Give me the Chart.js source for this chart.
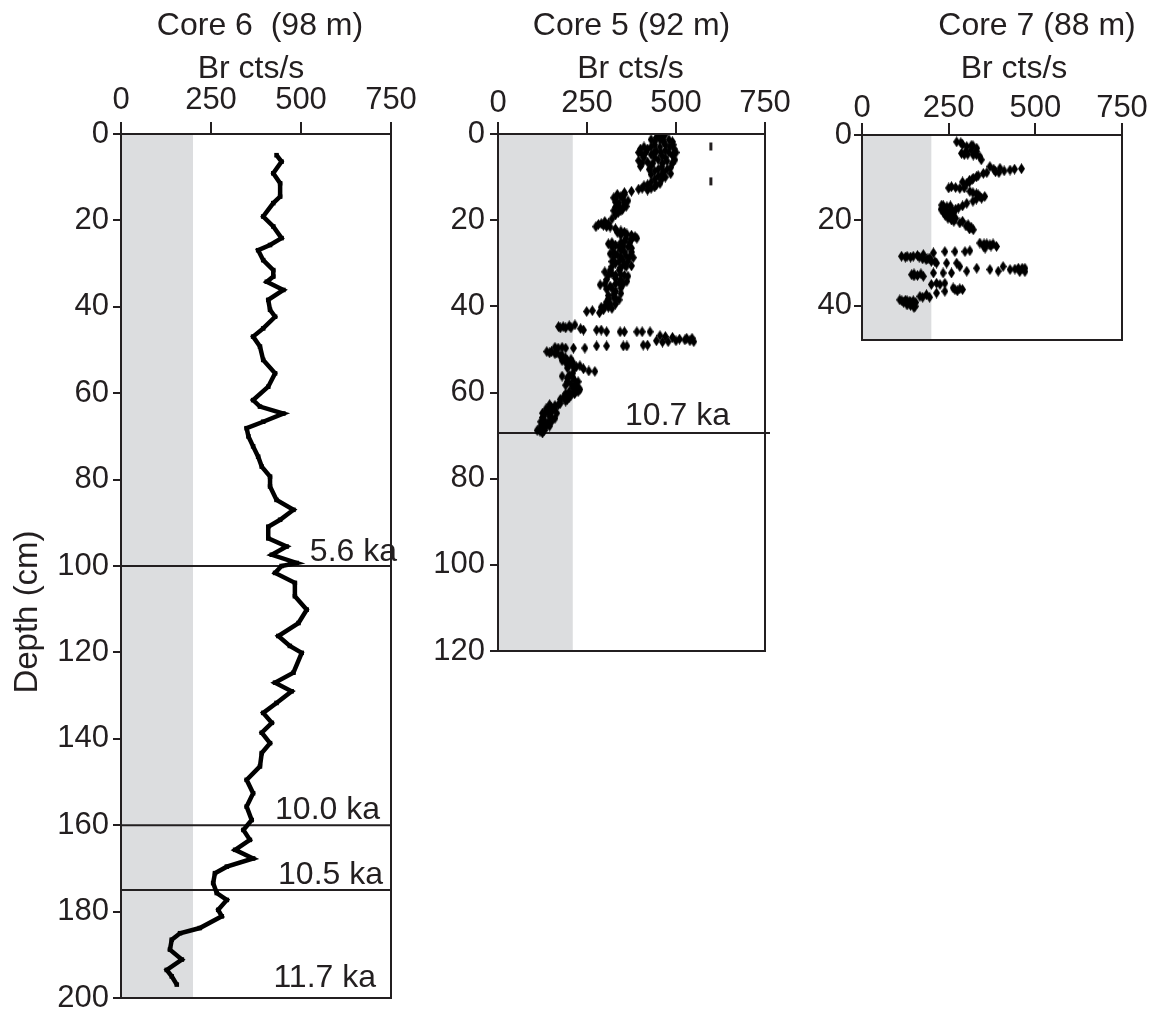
<!DOCTYPE html>
<html>
<head>
<meta charset="utf-8">
<script src="https://cdn.jsdelivr.net/npm/chart.js@4/dist/chart.umd.min.js"></script>
<style>
  html, body { margin: 0; padding: 0; background: #fff; overflow: hidden; }
  #wrap { position: relative; width: 1163px; height: 1015px; overflow: hidden; }
  canvas { position: absolute; top: 0; }
</style>
</head>
<body>
<div id="wrap">
  <canvas id="core6" width="430" height="1030" style="left:0px"></canvas>
  <canvas id="core5" width="380" height="700" style="left:420px"></canvas>
  <canvas id="core7" width="363" height="420" style="left:800px"></canvas>
</div>
<script>
// Core 6 (98 m): depth (cm) and Br counts
const core6Depth = [4.9, 6.4, 9.1, 11.4, 14.5, 16.0, 19.1, 21.4, 24.1, 25.7, 26.9, 29.2, 31.5, 33.0, 34.2, 36.1, 38.4, 40.7, 42.3, 45.0,
  46.9, 49.2, 52.3, 55.4, 58.5, 61.6, 63.1, 64.7, 66.6, 68.1, 70.0, 72.3, 74.7, 77.0, 79.3, 81.6, 84.7, 87.0, 89.3, 90.9,
  93.6, 95.5, 97.4, 99.3, 100.0, 101.6, 103.9, 107.0, 110.1, 113.2, 116.2, 118.5, 120.1, 124.7, 127.0, 129.0, 131.7, 134.0, 136.3, 138.6,
  141.0, 143.3, 146.4, 149.5, 152.6, 155.7, 158.8, 161.1, 163.4, 165.7, 167.7, 169.6, 171.1, 173.4, 175.7, 177.3, 179.6, 181.1, 183.8, 185.0,
  186.5, 188.8, 191.1, 193.5, 195.0, 196.9];
const core6Br = [432, 446, 423, 442, 442, 423, 395, 423, 446, 414, 381, 395, 423, 423, 405, 451, 409, 414, 428, 395,
  367, 386, 395, 428, 409, 367, 386, 451, 395, 349, 354, 367, 381, 391, 414, 414, 432, 479, 442, 409,
  409, 460, 419, 488, 446, 428, 483, 483, 516, 493, 437, 469, 502, 479, 428, 474, 432, 395, 419, 391,
  414, 391, 386, 349, 367, 349, 363, 340, 358, 317, 367, 294, 261, 256, 266, 294, 270, 280, 219, 164,
  141, 136, 169, 127, 141, 155];
const core6Ages = ['5.6 ka', '10.0 ka', '10.5 ka', '11.7 ka'];
const core6AgeDepth = [100, 160, 175, 200];

// Core 5 (92 m)
const core5Depth = [0.3, 0.3, 1.3, 1.3, 1.3, 2.5, 2.5, 2.5, 3.5, 3.5, 4.0, 3.8, 3.5, 4.8, 4.8, 5.0, 5.0,
  6.2, 6.5, 6.0, 6.3, 6.0, 7.5, 7.4, 7.6, 7.8, 8.6, 8.8, 9.2, 9.8, 10.0,
  11.2, 11.5, 12.0, 12.3, 12.8, 13.0, 13.3, 13.6, 14.5, 15.0, 15.5, 16.0, 16.5, 17.0, 17.5, 18.2,
  19.7, 20.3, 21.0, 21.2, 21.6, 22.0, 22.5, 23.2, 23.8, 24.5, 24.9, 25.5, 25.8, 26.0, 26.5, 27.0,
  27.8, 28.0, 28.3, 28.7, 29.2, 30.0, 30.3, 30.6, 31.0, 32.0, 32.4, 32.6, 33.0, 33.5, 34.2, 34.5, 35.0, 35.3,
  36.5, 37.0, 37.5, 38.0, 38.5, 39.0, 39.5, 40.0, 40.5, 40.8, 41.0, 41.2, 41.5,
  44.7, 44.7, 44.5, 44.3, 45.2, 45.5, 45.5, 45.5, 45.9, 45.9, 45.9, 45.9, 45.9, 45.9,
  46.8, 47.0, 47.2, 47.6, 47.8, 48.0, 48.2, 48.3, 48.2,
  49.0, 49.0, 49.2, 49.2, 49.2, 49.2, 49.7, 49.7, 49.7, 49.7,
  50.5, 50.5, 51.0, 51.5, 52.0, 52.3, 53.5, 54.0, 54.5, 55.0, 55.1, 55.5, 56.2, 56.7, 57.2,
  58.0, 58.6, 59.3, 60.0, 60.6, 61.2, 62.0, 62.5, 63.0, 63.5, 64.0, 64.5,
  65.0, 65.5, 66.0, 66.5, 67.0, 67.5, 68.0, 68.5, 69.0, 69.4,
  0.8, 0.8,
  1.8, 1.8, 1.8,
  3.0, 3.0, 3.0, 3.0,
  4.3, 4.3, 4.3, 4.3, 4.3, 4.3,
  5.5, 5.5, 5.5,
  6.8, 6.8, 6.8, 6.8,
  8.2, 8.2, 8.2,
  9.4, 9.4, 10.5, 10.5, 11.8, 11.8, 12.6, 12.6,
  14.0, 14.0, 14.8, 14.8, 15.8, 15.8, 16.8, 16.8, 17.8, 17.8, 18.8,
  20.8, 20.8, 21.5, 21.5, 22.8, 22.8, 23.5, 23.5, 24.2, 24.2,
  25.2, 25.2, 25.2, 26.2, 26.2, 26.2, 27.4, 27.4, 27.4, 28.5, 28.5, 28.5, 29.6, 29.6, 29.6,
  30.8, 30.8, 31.6, 31.6, 32.8, 32.8, 32.8, 33.8, 33.8, 34.8, 34.8, 34.8,
  35.8, 35.8, 36.0, 37.2, 38.3, 38.3, 39.3, 40.2, 40.2,
  45.0, 45.0, 45.0, 47.4, 47.4, 48.0, 48.0,
  49.5, 49.5, 50.8, 50.8, 51.3, 52.6, 52.6, 53.0, 53.0, 53.8, 53.8, 54.3, 54.3,
  56.0, 56.5, 57.5, 57.5, 58.3, 58.3, 59.0, 59.0, 59.8, 59.8, 60.3, 60.3, 61.0, 61.6, 61.6,
  62.8, 62.8, 63.8, 63.8, 64.8, 64.8, 64.8, 65.8, 65.8, 66.8, 66.8, 67.8, 67.8, 68.8, 68.8];
const core5Br = [450, 468, 430, 455, 480, 440, 470, 492, 400, 420, 445, 470, 495, 405, 430, 460, 490,
  395, 420, 450, 475, 497, 400, 430, 460, 485, 440, 465, 485, 450, 470,
  430, 455, 410, 440, 395, 420, 375, 355, 345, 330, 365, 340, 355, 330, 350, 338,
  320, 300, 282, 296, 315, 330, 345, 362, 385, 375, 355, 310, 330, 352, 375, 345,
  315, 335, 360, 380, 350, 330, 355, 375, 345, 300, 320, 345, 365, 330, 362, 340, 287, 315,
  330, 345, 310, 325, 340, 305, 330, 300, 320, 296, 265, 249, 285,
  170, 183, 200, 216, 232, 240, 277, 290, 305, 343, 355, 390, 405, 427,
  455, 470, 490, 510, 525, 539, 550, 462, 478,
  408, 420, 362, 352, 305, 277, 244, 212, 190, 169,
  137, 150, 160, 175, 190, 205, 200, 220, 240, 255, 272, 210, 180, 195, 215,
  205, 215, 230, 216, 205, 200, 190, 175, 160, 150, 140, 150,
  132, 145, 160, 130, 140, 125, 135, 120, 118, 125,
  445, 462,
  440, 465, 490,
  410, 430, 455, 482,
  395, 415, 438, 458, 480, 500,
  410, 440, 470,
  405, 435, 462, 490,
  425, 450, 475,
  430, 460, 440, 460, 420, 445, 405, 430,
  335, 355, 325, 350, 330, 355, 340, 360, 325, 345, 330,
  290, 310, 275, 305, 335, 355, 345, 375, 360, 390,
  320, 345, 370, 320, 340, 365, 325, 355, 375, 325, 345, 370, 320, 340, 365,
  320, 360, 315, 340, 310, 330, 355, 305, 345, 300, 330, 352,
  320, 345, 305, 325, 310, 332, 315, 310, 290,
  175, 190, 205, 530, 545, 445, 500,
  160, 180, 145, 165, 180, 180, 195, 190, 210, 210, 230, 195, 215,
  200, 210, 195, 225, 190, 220, 210, 225, 200, 225, 190, 215, 185, 175, 195,
  145, 170, 135, 160, 125, 145, 165, 125, 150, 120, 150, 120, 145, 110, 130];
const core5DashDepth = [2.9, 11.0];
const core5DashBr = [598, 598];
const core5Ages = ['10.7 ka'];
const core5AgeDepth = [69.4];

// Core 7 (88 m)
const core7Depth = [1.6, 2.2, 2.7, 3.1, 3.5, 4.3, 4.5, 4.7, 5.1, 5.8,
  7.4, 7.8, 8.2, 7.9, 8.4, 8.6, 9.0, 9.5, 10.1, 10.6, 11.3, 12.1, 12.3, 12.5, 13.2, 13.8, 14.4, 14.4, 15.0, 16.0,
  16.4, 16.8, 17.1, 17.5, 17.9, 18.5, 19.1, 19.9, 20.6, 21.0, 21.6, 22.2,
  25.3, 25.5, 25.7, 26.1, 26.5, 27.1, 27.3, 27.3, 27.3, 27.6, 28.0, 28.2, 28.4, 28.4, 28.4, 28.8, 29.2,
  30.0, 30.0, 30.0, 30.8, 31.9, 31.2, 31.5, 31.9, 30.8, 31.5, 31.2, 31.2, 31.2,
  32.7, 32.9, 33.1, 32.3, 32.3, 32.3, 34.7, 34.7, 35.8, 36.0, 36.6, 37.0, 37.4, 37.8,
  38.6, 38.7, 38.9, 39.5, 40.1, 39.8,
  1.8, 2.5, 2.5, 3.8, 3.8, 4.6, 4.6,
  8.0, 8.0, 8.8, 8.8, 9.8, 10.4, 11.0, 11.0, 12.4, 12.4, 13.5, 14.0, 14.8, 15.5,
  16.6, 16.6, 16.6, 17.4, 17.4, 17.4, 18.2, 18.2, 18.2, 18.8, 18.8, 19.5, 19.5, 20.2, 20.2, 21.3, 22.0,
  25.5, 25.5, 26.0, 26.0, 28.6, 28.6, 28.6, 29.0, 29.0, 29.6, 29.6,
  31.4, 32.0, 32.0, 32.5, 32.5, 33.0, 35.0, 35.0, 36.2, 36.2, 36.5,
  38.0, 38.0, 38.8, 38.8, 38.8, 39.2, 39.2, 39.2, 39.9, 40.4];
const core7Br = [273, 290, 302, 331, 315, 287, 305, 321, 340, 344,
  369, 398, 427, 460, 410, 385, 350, 335, 321, 310, 302, 258, 270, 282, 311, 330, 340, 354, 330, 302,
  230, 245, 278, 240, 244, 250, 254, 258, 282, 306, 315, 321,
  340, 352, 369, 388, 355, 311, 297, 268, 239, 206, 177, 160, 148, 130, 114, 196, 185,
  215, 244, 273, 282, 302, 331, 369, 393, 407, 427, 451, 462, 470,
  143, 160, 177, 206, 234, 258, 215, 239, 263, 282, 239, 215, 186, 167,
  109, 125, 138, 145, 153, 130,
  285, 315, 320, 300, 330, 295, 330,
  380, 440, 360, 395, 330, 318, 290, 310, 250, 295, 320, 335, 345, 320,
  235, 255, 290, 228, 258, 270, 235, 255, 265, 240, 262, 248, 270, 265, 290, 300, 310,
  360, 378, 350, 372, 125, 140, 165, 175, 190, 200, 210,
  441, 455, 470, 150, 170, 150, 200, 225, 268, 290, 275,
  175, 195, 115, 130, 148, 120, 140, 155, 140, 150];

const brTicks = [0, 250, 500, 750];
const bandLimit = { core6: 200, core5: 210, core7: 200 };

const ink = '#231f20';
const fontFamily = '"Liberation Sans", Arial, Helvetica, sans-serif';
Chart.defaults.font.family = fontFamily;
Chart.defaults.color = ink;

function pairs(depths, values) {
  return depths.map((d, i) => ({ x: values[i], y: d }));
}

// narrow diamond used as marker for cores 5 and 7
function diamond() {
  const c = document.createElement('canvas');
  c.width = 7; c.height = 11;
  const g = c.getContext('2d');
  g.fillStyle = '#000';
  g.beginPath();
  g.moveTo(3.5, 0); g.lineTo(7, 5.5); g.lineTo(3.5, 11); g.lineTo(0, 5.5);
  g.closePath();
  g.fill();
  return c;
}
const diamondMark = diamond();

const decor = {
  id: 'decor',
  beforeDatasetsDraw(chart, args, o) {
    const { ctx, chartArea: a, scales: { x, y } } = chart;
    ctx.save();
    ctx.fillStyle = '#dcdddf';
    ctx.fillRect(a.left, a.top, x.getPixelForValue(o.band) - a.left, a.bottom - a.top);
    ctx.strokeStyle = ink;
    ctx.lineWidth = 2;
    (o.ageDepth || []).forEach(d => {
      if (d >= y.max) return;
      const py = y.getPixelForValue(d);
      ctx.beginPath();
      ctx.moveTo(a.left, py);
      ctx.lineTo(a.right + (o.lineExtend || 0), py);
      ctx.stroke();
    });
    ctx.restore();
  },
  afterDraw(chart, args, o) {
    const { ctx, chartArea: a, scales: { y } } = chart;
    const cx = (a.left + a.right) / 2;
    ctx.save();
    ctx.strokeStyle = ink;
    ctx.lineWidth = 2;
    ctx.strokeRect(a.left, a.top, a.right - a.left, a.bottom - a.top);

    ctx.fillStyle = ink;
    ctx.textBaseline = 'alphabetic';
    ctx.textAlign = 'center';
    ctx.font = '32px ' + fontFamily;
    ctx.fillText(o.title, cx + o.titleDx, 35);
    ctx.fillText('Br cts/s', cx + o.unitDx, 78);

    ctx.textAlign = 'right';
    (o.ages || []).forEach((t, i) => {
      ctx.fillText(t, a.right + o.ageDx[i], y.getPixelForValue(o.ageDepth[i]) + o.ageDy[i]);
    });

    if (o.depthTitle) {
      ctx.translate(37, 612);
      ctx.rotate(-Math.PI / 2);
      ctx.textAlign = 'center';
      ctx.font = '33px ' + fontFamily;
      ctx.fillText(o.depthTitle, 0, 0);
    }
    ctx.restore();
  }
};

function axes(yMax, yWidth, xPad, yPad, xHeight) {
  return {
    x: {
      type: 'linear', position: 'top', min: 0, max: 750,
      afterBuildTicks: s => { s.ticks = brTicks.map(v => ({ value: v })); },
      afterFit: s => { s.height = xHeight; },
      ticks: { font: { size: 31 }, color: ink, padding: xPad, maxRotation: 0, autoSkip: false },
      grid: { drawOnChartArea: false, tickLength: 12, color: ink, lineWidth: 2 },
      border: { color: ink, width: 2 }
    },
    y: {
      type: 'linear', reverse: true, min: 0, max: yMax,
      afterBuildTicks: s => { s.ticks = s.ticks.filter(t => t.value % 20 === 0); },
      afterFit: s => { s.width = yWidth; },
      ticks: { stepSize: 20, font: { size: 31 }, color: ink, padding: yPad, autoSkip: false },
      grid: { drawOnChartArea: false, tickLength: 8, color: ink, lineWidth: 2 },
      border: { color: ink, width: 2 }
    }
  };
}

function baseOptions(scales, padRight, padBottom, decorOpts) {
  return {
    responsive: false,
    animation: false,
    devicePixelRatio: 1,
    layout: { padding: { top: 0, left: 0, right: padRight, bottom: padBottom } },
    plugins: { legend: { display: false }, tooltip: { enabled: false }, decor: decorOpts },
    scales: scales
  };
}

new Chart(document.getElementById('core6'), {
  type: 'scatter',
  data: {
    datasets: [{
      data: pairs(core6Depth, core6Br),
      showLine: true,
      borderColor: '#000',
      borderWidth: 4.5,
      backgroundColor: '#000',
      pointStyle: 'rect',
      pointRadius: 3.2,
      pointBorderWidth: 0
    }]
  },
  options: baseOptions(axes(200, 121, 3, 4, 134), 39, 32, {
    title: 'Core 6  (98 m)', titleDx: 4, unitDx: -5,
    band: bandLimit.core6,
    ages: core6Ages, ageDepth: core6AgeDepth,
    ageDx: [6, -11, -8, -15], ageDy: [-5, -6.5, -6, -11],
    depthTitle: 'Depth (cm)'
  }),
  plugins: [decor]
});

new Chart(document.getElementById('core5'), {
  type: 'scatter',
  data: {
    datasets: [{
      data: pairs(core5Depth, core5Br),
      pointStyle: diamondMark
    }, {
      data: pairs(core5DashDepth, core5DashBr),
      pointStyle: 'line',
      rotation: 90,
      pointRadius: 4,
      borderColor: ink,
      borderWidth: 3
    }]
  },
  options: baseOptions(axes(120, 78, 0, 5, 134), 35, 49, {
    title: 'Core 5 (92 m)', titleDx: 0, unitDx: -1,
    band: bandLimit.core5,
    ages: core5Ages, ageDepth: core5AgeDepth,
    ageDx: [-35], ageDy: [-8], lineExtend: 5
  }),
  plugins: [decor]
});

new Chart(document.getElementById('core7'), {
  type: 'scatter',
  data: {
    datasets: [{
      data: pairs(core7Depth, core7Br),
      pointStyle: diamondMark
    }]
  },
  options: baseOptions(axes(48, 62, -4, 2, 135), 41, 80, {
    title: 'Core 7 (88 m)', titleDx: 45, unitDx: 22,
    band: bandLimit.core7
  }),
  plugins: [decor]
});
</script>
</body>
</html>
